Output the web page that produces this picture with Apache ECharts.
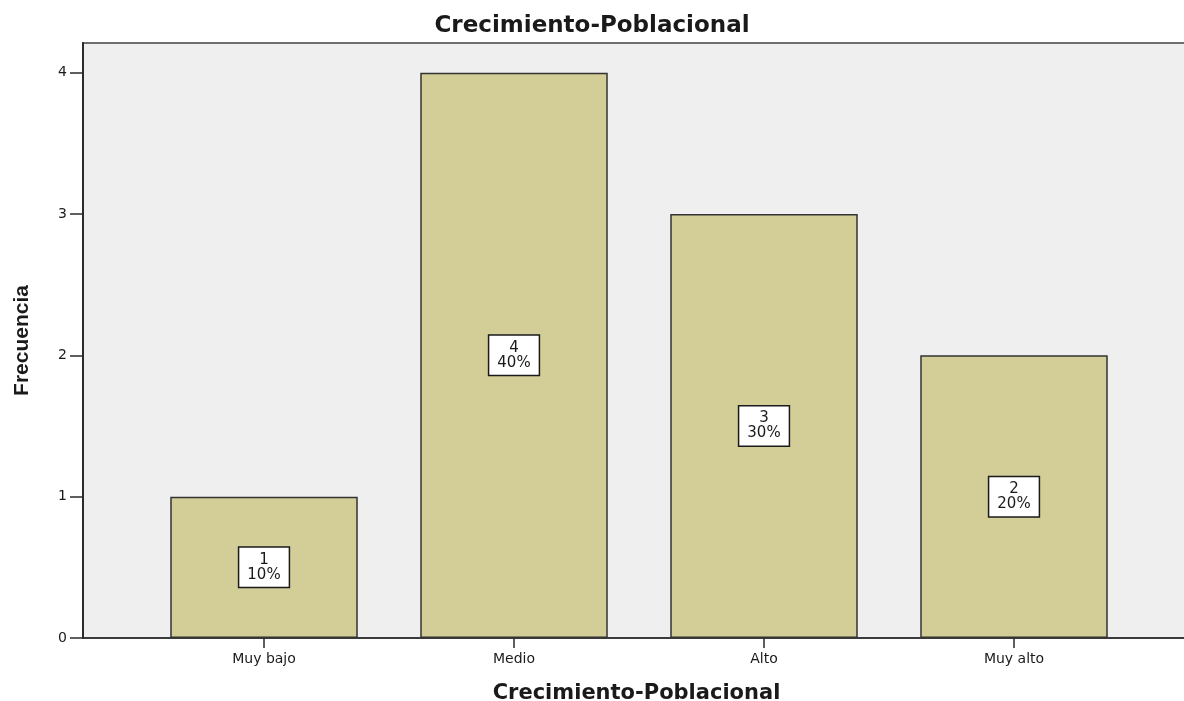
<!DOCTYPE html>
<html>
<head>
<meta charset="utf-8">
<script src="https://cdn.jsdelivr.net/npm/echarts@6/dist/echarts.min.js"></script>
<style>
  html, body { margin: 0; padding: 0; background: #fff; }
  #grafico { width: 1184px; height: 701px; }
</style>
</head>
<body>
<div id="grafico"></div>
<script>
// datos del gráfico
const categorias = ['Muy bajo', 'Medio', 'Alto', 'Muy alto'];
const frecuencias = [1, 4, 3, 2];
const ticksY = [0, 1, 2, 3, 4];

const total = frecuencias.reduce((a, b) => a + b, 0);
const fuente = 'DejaVu Sans';
const yMax = 4.21; // el recuadro llega un poco por encima del 4

const grafico = echarts.init(document.getElementById('grafico'));

const opcoes = {
  backgroundColor: '#ffffff',
  animation: false,
  title: {
    text: 'Crecimiento-Poblacional',
    left: 'center',
    top: 10,
    textStyle: { fontFamily: fuente, fontWeight: 'bold', fontSize: 23, color: '#1a1a1a' }
  },
  grid: [
    // recuadro de fondo + eje Y
    { left: 83, right: -6, top: 43, bottom: 63, show: true, outerBoundsMode: 'none',
      backgroundColor: '#efefef', borderColor: '#6e6e6e', borderWidth: 2 },
    // zona de las barras
    { left: 139, right: 45, top: 43, bottom: 63, outerBoundsMode: 'none' }
  ],
  xAxis: [
    {
      gridIndex: 0,
      type: 'value',
      min: 0, max: 1,
      name: 'Crecimiento-Poblacional',
      nameLocation: 'middle',
      nameGap: 45,
      nameTextStyle: { fontFamily: fuente, fontWeight: 'bold', fontSize: 21, color: '#1a1a1a' },
      axisLine: { show: true, lineStyle: { color: '#2b2b2b', width: 1.5 } },
      axisTick: { show: false },
      axisLabel: { show: false },
      splitLine: { show: false }
    },
    {
      gridIndex: 1,
      type: 'category',
      data: categorias,
      boundaryGap: true,
      axisLine: { show: false },
      axisTick: { show: true, alignWithLabel: true, length: 10, inside: false,
        lineStyle: { color: '#2b2b2b', width: 1.5 } },
      axisLabel: { margin: 14, fontFamily: fuente, fontSize: 14, color: '#1a1a1a' },
      splitLine: { show: false }
    }
  ],
  yAxis: [
    {
      gridIndex: 0,
      type: 'value',
      min: 0, max: yMax, interval: 1,
      name: 'Frecuencia',
      nameLocation: 'middle',
      nameGap: 50,
      nameTextStyle: { fontFamily: 'Liberation Sans', fontWeight: 'bold', fontSize: 21, color: '#1a1a1a' },
      axisLine: { show: true, lineStyle: { color: '#2b2b2b', width: 2 } },
      axisTick: { show: true, length: 13, customValues: ticksY,
        lineStyle: { color: '#2b2b2b', width: 1.5 } },
      axisLabel: {
        margin: 16, fontFamily: fuente, fontSize: 14, color: '#1a1a1a',
        customValues: ticksY
      },
      splitLine: { show: false }
    },
    {
      gridIndex: 1,
      type: 'value',
      min: 0, max: yMax, interval: 1,
      show: false,
      splitLine: { show: false }
    }
  ],
  series: [{
    name: 'Frecuencia',
    type: 'bar',
    xAxisIndex: 1,
    yAxisIndex: 1,
    data: frecuencias,
    barCategoryGap: '25%',
    itemStyle: { color: '#d3cd97', borderColor: '#333333', borderWidth: 1.5 },
    label: {
      show: true,
      position: 'inside',
      formatter: p => p.value + '\n' + Math.round(p.value / total * 100) + '%',
      fontFamily: fuente,
      fontSize: 15,
      lineHeight: 15,
      color: '#1a1a1a',
      align: 'center',
      backgroundColor: '#ffffff',
      borderColor: '#1a1a1a',
      borderWidth: 1.5,
      padding: [5, 8, 4, 8]
    }
  }]
};

grafico.setOption(opcoes);
window.addEventListener('resize', () => grafico.resize());
</script>
</body>
</html>
